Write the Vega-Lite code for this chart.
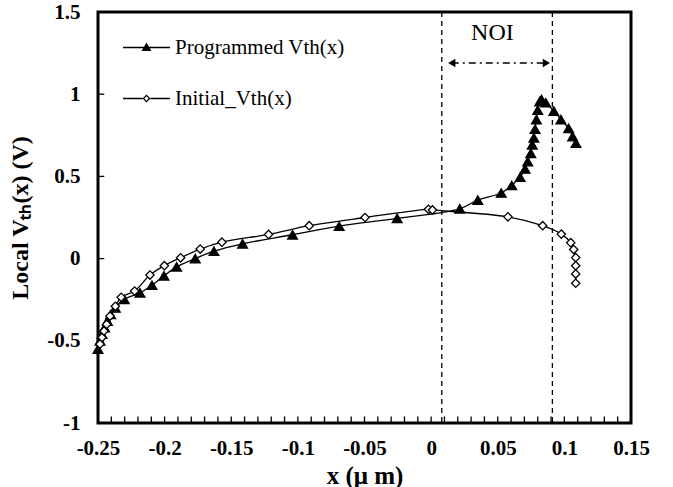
{
  "$schema": "https://vega.github.io/schema/vega-lite/v6.json",
  "autosize": "none",
  "width": 533,
  "height": 411,
  "padding": {"left": 98, "top": 12, "right": 42, "bottom": 64},
  "background": "white",
  "config": {
    "view": {"stroke": "black", "strokeWidth": 3}
  },
  "datasets": {
    "vth": [
      {"series": "Programmed Vth(x)", "x": -0.25, "y": -0.55},
      {"series": "Programmed Vth(x)", "x": -0.2485, "y": -0.5},
      {"series": "Programmed Vth(x)", "x": -0.247, "y": -0.46},
      {"series": "Programmed Vth(x)", "x": -0.245, "y": -0.42},
      {"series": "Programmed Vth(x)", "x": -0.243, "y": -0.38},
      {"series": "Programmed Vth(x)", "x": -0.2405, "y": -0.34},
      {"series": "Programmed Vth(x)", "x": -0.237, "y": -0.3},
      {"series": "Programmed Vth(x)", "x": -0.2303, "y": -0.248},
      {"series": "Programmed Vth(x)", "x": -0.2185, "y": -0.208},
      {"series": "Programmed Vth(x)", "x": -0.2095, "y": -0.162},
      {"series": "Programmed Vth(x)", "x": -0.2005, "y": -0.105},
      {"series": "Programmed Vth(x)", "x": -0.191, "y": -0.05},
      {"series": "Programmed Vth(x)", "x": -0.177, "y": 0.0},
      {"series": "Programmed Vth(x)", "x": -0.163, "y": 0.045},
      {"series": "Programmed Vth(x)", "x": -0.1415, "y": 0.09},
      {"series": "Programmed Vth(x)", "x": -0.104, "y": 0.145},
      {"series": "Programmed Vth(x)", "x": -0.069, "y": 0.197},
      {"series": "Programmed Vth(x)", "x": -0.0255, "y": 0.245},
      {"series": "Programmed Vth(x)", "x": 0.0215, "y": 0.303},
      {"series": "Programmed Vth(x)", "x": 0.035, "y": 0.356},
      {"series": "Programmed Vth(x)", "x": 0.0526, "y": 0.399},
      {"series": "Programmed Vth(x)", "x": 0.0605, "y": 0.445},
      {"series": "Programmed Vth(x)", "x": 0.0668, "y": 0.495},
      {"series": "Programmed Vth(x)", "x": 0.0705, "y": 0.545},
      {"series": "Programmed Vth(x)", "x": 0.0725, "y": 0.59},
      {"series": "Programmed Vth(x)", "x": 0.0748, "y": 0.64},
      {"series": "Programmed Vth(x)", "x": 0.0759, "y": 0.692},
      {"series": "Programmed Vth(x)", "x": 0.0771, "y": 0.735},
      {"series": "Programmed Vth(x)", "x": 0.078, "y": 0.787},
      {"series": "Programmed Vth(x)", "x": 0.079, "y": 0.846},
      {"series": "Programmed Vth(x)", "x": 0.08, "y": 0.903},
      {"series": "Programmed Vth(x)", "x": 0.0815, "y": 0.955},
      {"series": "Programmed Vth(x)", "x": 0.0828, "y": 0.968},
      {"series": "Programmed Vth(x)", "x": 0.086, "y": 0.948},
      {"series": "Programmed Vth(x)", "x": 0.0921, "y": 0.897},
      {"series": "Programmed Vth(x)", "x": 0.0974, "y": 0.846},
      {"series": "Programmed Vth(x)", "x": 0.1032, "y": 0.792},
      {"series": "Programmed Vth(x)", "x": 0.1062, "y": 0.742},
      {"series": "Programmed Vth(x)", "x": 0.1087, "y": 0.702},
      {"series": "Initial_Vth(x)", "x": -0.2485, "y": -0.52},
      {"series": "Initial_Vth(x)", "x": -0.247, "y": -0.48},
      {"series": "Initial_Vth(x)", "x": -0.2455, "y": -0.44},
      {"series": "Initial_Vth(x)", "x": -0.2435, "y": -0.4},
      {"series": "Initial_Vth(x)", "x": -0.241, "y": -0.35},
      {"series": "Initial_Vth(x)", "x": -0.237, "y": -0.29},
      {"series": "Initial_Vth(x)", "x": -0.2326, "y": -0.235},
      {"series": "Initial_Vth(x)", "x": -0.2225, "y": -0.197},
      {"series": "Initial_Vth(x)", "x": -0.211, "y": -0.1},
      {"series": "Initial_Vth(x)", "x": -0.2002, "y": -0.043},
      {"series": "Initial_Vth(x)", "x": -0.188, "y": 0.005},
      {"series": "Initial_Vth(x)", "x": -0.1733, "y": 0.058},
      {"series": "Initial_Vth(x)", "x": -0.157, "y": 0.1},
      {"series": "Initial_Vth(x)", "x": -0.122, "y": 0.147},
      {"series": "Initial_Vth(x)", "x": -0.0915, "y": 0.2},
      {"series": "Initial_Vth(x)", "x": -0.0496, "y": 0.25},
      {"series": "Initial_Vth(x)", "x": -0.002, "y": 0.3},
      {"series": "Initial_Vth(x)", "x": 0.001, "y": 0.296},
      {"series": "Initial_Vth(x)", "x": 0.0576, "y": 0.254},
      {"series": "Initial_Vth(x)", "x": 0.0837, "y": 0.2},
      {"series": "Initial_Vth(x)", "x": 0.0977, "y": 0.149},
      {"series": "Initial_Vth(x)", "x": 0.1048, "y": 0.097},
      {"series": "Initial_Vth(x)", "x": 0.107, "y": 0.055},
      {"series": "Initial_Vth(x)", "x": 0.1085, "y": 0.006},
      {"series": "Initial_Vth(x)", "x": 0.1085, "y": -0.043},
      {"series": "Initial_Vth(x)", "x": 0.1085, "y": -0.093},
      {"series": "Initial_Vth(x)", "x": 0.1085, "y": -0.15}
    ],
    "noi": [{"x": 0.008}, {"x": 0.091}],
    "arrow": [{"x1": 0.0155, "x2": 0.0865, "y": 1.19, "label": "NOI", "lx": 0.046, "ly": 1.375}],
    "xticks": [{"v": -0.24}, {"v": -0.23}, {"v": -0.22}, {"v": -0.21}, {"v": -0.2}, {"v": -0.19}, {"v": -0.18}, {"v": -0.17}, {"v": -0.16}, {"v": -0.15}, {"v": -0.14}, {"v": -0.13}, {"v": -0.12}, {"v": -0.11}, {"v": -0.1}, {"v": -0.09}, {"v": -0.08}, {"v": -0.07}, {"v": -0.06}, {"v": -0.05}, {"v": -0.04}, {"v": -0.03}, {"v": -0.02}, {"v": -0.01}, {"v": 0}, {"v": 0.01}, {"v": 0.02}, {"v": 0.03}, {"v": 0.04}, {"v": 0.05}, {"v": 0.06}, {"v": 0.07}, {"v": 0.08}, {"v": 0.09}, {"v": 0.1}, {"v": 0.11}, {"v": 0.12}, {"v": 0.13}, {"v": 0.14}],
    "yticks": [{"v": -0.5}, {"v": 0}, {"v": 0.5}, {"v": 1}]
  },
  "layer": [
    {
      "data": {"name": "vth"},
      "mark": {"type": "line", "color": "black", "strokeWidth": 1.3, "interpolate": "catmull-rom"},
      "encoding": {
        "x": {
          "field": "x", "type": "quantitative",
          "scale": {"domain": [-0.25, 0.15], "nice": false, "zero": false},
          "axis": {
            "orient": "bottom",
            "title": "x (μ m)",
            "titleFont": "Liberation Serif",
            "titleFontWeight": "bold",
            "titleFontSize": 25,
            "titleColor": "black",
            "titlePadding": 5,
            "values": [-0.25, -0.2, -0.15, -0.1, -0.05, 0, 0.05, 0.1, 0.15],
            "labelExpr": "'' + datum.value",
            "labelFont": "Liberation Serif",
            "labelFontWeight": "bold",
            "labelFontSize": 21,
            "labelColor": "black",
            "labelPadding": 14,
            "labelFlush": false,
            "labelOverlap": false,
            "ticks": false,
            "domain": false,
            "grid": false
          }
        },
        "y": {
          "field": "y", "type": "quantitative",
          "scale": {"domain": [-1, 1.5], "nice": false, "zero": false},
          "axis": {
            "title": "Local Vₜₕ(x)  (V)",
            "titleFont": "Liberation Serif",
            "titleFontWeight": "bold",
            "titleFontSize": 24,
            "titleColor": "black",
            "titlePadding": 14,
            "values": [-1, -0.5, 0, 0.5, 1, 1.5],
            "labelExpr": "'' + datum.value",
            "labelFont": "Liberation Serif",
            "labelFontWeight": "bold",
            "labelFontSize": 21,
            "labelColor": "black",
            "labelPadding": 18,
            "labelFlush": false,
            "labelOverlap": false,
            "ticks": false,
            "domain": false,
            "grid": false
          }
        },
        "detail": {"field": "series"},
        "order": {"value": null}
      }
    },
    {
      "data": {"name": "xticks"},
      "mark": {"type": "rule", "color": "black", "strokeWidth": 1.3},
      "encoding": {
        "x": {"field": "v", "type": "quantitative"},
        "y": {"datum": -1, "type": "quantitative"},
        "y2": {"datum": -0.96}
      }
    },
    {
      "data": {"name": "yticks"},
      "mark": {"type": "rule", "color": "black", "strokeWidth": 1.3},
      "encoding": {
        "y": {"field": "v", "type": "quantitative"},
        "x": {"datum": -0.25, "type": "quantitative"},
        "x2": {"datum": -0.2453}
      }
    },
    {
      "data": {"name": "noi"},
      "mark": {"type": "rule", "color": "black", "strokeWidth": 1.3, "strokeDash": [5, 4]},
      "encoding": {
        "x": {"field": "x", "type": "quantitative"}
      }
    },
    {
      "data": {"name": "vth"},
      "mark": {"type": "point", "stroke": "black", "strokeWidth": 1.3, "opacity": 1},
      "encoding": {
        "x": {"field": "x", "type": "quantitative"},
        "y": {"field": "y", "type": "quantitative"},
        "shape": {
          "condition": {"test": "datum.series === 'Programmed Vth(x)'", "value": "triangle-up"},
          "value": "diamond"
        },
        "fill": {
          "condition": {"test": "datum.series === 'Programmed Vth(x)'", "value": "black"},
          "value": "white"
        },
        "size": {
          "condition": {"test": "datum.series === 'Programmed Vth(x)'", "value": 95},
          "value": 70
        }
      }
    },
    {
      "data": {"name": "vth"},
      "mark": {"type": "point", "filled": true, "size": 0, "opacity": 1},
      "encoding": {
        "x": {"field": "x", "type": "quantitative"},
        "y": {"field": "y", "type": "quantitative"},
        "shape": {
          "field": "series", "type": "nominal",
          "scale": {
            "domain": ["Programmed Vth(x)", "Initial_Vth(x)"],
            "range": [
              "M-1,-0.028H1V0.028H-1ZM0,-0.21L0.21,0.15L-0.21,0.15Z",
              "M-1,-0.028H-0.17V0.028H-1ZM0.17,-0.028H1V0.028H0.17ZM0,-0.17L0.17,0L0,0.17L-0.17,0ZM0,-0.092L-0.092,0L0,0.092L0.092,0Z"
            ]
          },
          "legend": {
            "title": null,
            "orient": "none",
            "legendX": 24,
            "legendY": 11,
            "padding": 0,
            "symbolSize": 2209,
            "symbolOpacity": 1,
            "rowPadding": 16,
            "labelOffset": 4,
            "labelFont": "Liberation Serif",
            "labelFontSize": 21,
            "labelColor": "black",
            "labelLimit": 300
          }
        },
        "fill": {
          "field": "series", "type": "nominal",
          "scale": {"domain": ["Programmed Vth(x)", "Initial_Vth(x)"], "range": ["black", "black"]},
          "legend": {
            "title": null,
            "orient": "none",
            "legendX": 24,
            "legendY": 11,
            "padding": 0,
            "symbolSize": 2209,
            "symbolOpacity": 1,
            "rowPadding": 16,
            "labelOffset": 4,
            "labelFont": "Liberation Serif",
            "labelFontSize": 21,
            "labelColor": "black",
            "labelLimit": 300
          }
        }
      }
    },
    {
      "data": {"name": "arrow"},
      "mark": {"type": "rule", "color": "black", "strokeWidth": 1.6, "strokeDash": [7, 4, 2, 4]},
      "encoding": {
        "x": {"field": "x1", "type": "quantitative"},
        "x2": {"field": "x2"},
        "y": {"field": "y", "type": "quantitative"}
      }
    },
    {
      "data": {"name": "arrow"},
      "mark": {"type": "point", "shape": "triangle-left", "filled": true, "color": "black", "size": 70, "opacity": 1},
      "encoding": {
        "x": {"field": "x1", "type": "quantitative"},
        "y": {"field": "y", "type": "quantitative"}
      }
    },
    {
      "data": {"name": "arrow"},
      "mark": {"type": "point", "shape": "triangle-right", "filled": true, "color": "black", "size": 70, "opacity": 1},
      "encoding": {
        "x": {"field": "x2", "type": "quantitative"},
        "y": {"field": "y", "type": "quantitative"}
      }
    },
    {
      "data": {"name": "arrow"},
      "mark": {"type": "text", "font": "Liberation Serif", "fontSize": 24, "color": "black", "align": "center", "baseline": "middle"},
      "encoding": {
        "x": {"field": "lx", "type": "quantitative"},
        "y": {"field": "ly", "type": "quantitative"},
        "text": {"field": "label"}
      }
    }
  ]
}
